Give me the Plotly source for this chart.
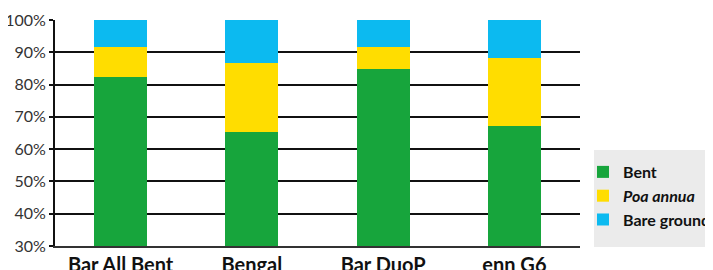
import plotly.graph_objects as go

categories = ["Bar All Bent", "Bengal", "Bar DuoP", "enn G6"]
bent = [82.3, 65.3, 84.8, 67.2]
poa_annua = [9.3, 21.4, 6.8, 21.0]
bare_ground = [8.4, 13.3, 8.4, 11.8]
y_ticks = [30, 40, 50, 60, 70, 80, 90, 100]
y_tick_labels = [f"{v}%" for v in y_ticks]

fig = go.Figure()
fig.add_trace(go.Bar(x=categories, y=bent, name="<b>Bent</b>", marker_color="#17a53c", marker_line_width=0))
fig.add_trace(go.Bar(x=categories, y=poa_annua, name="<b><i>Poa annua</i></b>", marker_color="#ffdd00", marker_line_width=0))
fig.add_trace(go.Bar(x=categories, y=bare_ground, name="<b>Bare ground</b>", marker_color="#0cbaf0", marker_line_width=0))

# legend background panel
fig.add_shape(type="rect", xref="paper", yref="paper",
              x0=1.0267, x1=1.30, y0=-0.0044, y1=0.4248,
              fillcolor="#ebebeb", line_width=0, layer="below")

fig.update_layout(
    barmode="stack",
    bargap=0.595,
    width=721, height=270,
    margin=dict(l=47, r=149, t=12, b=32, autoexpand=False),
    plot_bgcolor="rgba(0,0,0,0)", paper_bgcolor="white",
    font=dict(family="Lato, sans-serif", color="#222"),
    showlegend=True,
    legend=dict(
        traceorder="normal",
        x=1.0057, xanchor="left", y=0.4027, yanchor="top",
        bgcolor="rgba(0,0,0,0)",
        font=dict(size=16, color="#111"),
        itemwidth=30,
        tracegroupgap=0,
    ),
    xaxis=dict(
        automargin=False,
        showline=True, linecolor="#333", linewidth=2,
        tickfont=dict(size=20, color="#111", family="Lato, sans-serif", weight="bold"),
        ticks="", showgrid=False,
    ),
    yaxis=dict(
        automargin=False,
        range=[30, 100],
        tickvals=y_ticks, ticktext=y_tick_labels,
        tickfont=dict(size=16, color="#333"),
        showgrid=True, gridcolor="#111", gridwidth=1.5,
        showline=True, linecolor="#111", linewidth=2,
        ticks="outside", ticklen=4, tickcolor="#111", tickwidth=1.5,
        zeroline=False,
    ),
)

fig.write_html("out.html")
